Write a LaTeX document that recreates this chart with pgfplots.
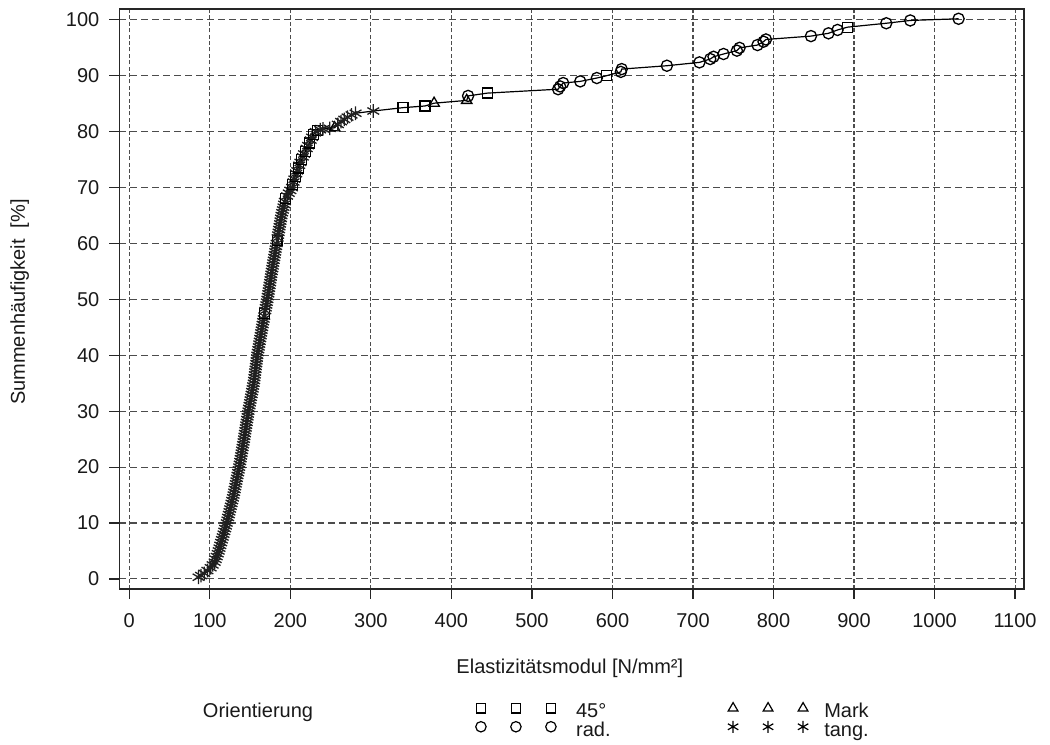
\documentclass[border=0pt]{standalone}
\usepackage{pgfplots}
\pgfplotsset{compat=1.18}
\usepackage{pgfplotstable}
\usepackage{fontspec}
\setmainfont{Liberation Sans}

\pgfplotstableread{
x y c
86 0.3 st
89 0.6 st
93 1.0 st
97 1.5 st
101 2.0 st
103.5 2.5 st
106 3.0 st
107.3 3.5 st
108.5 4.0 st
109.8 4.5 st
111 5.0 st
112 5.5 st
113 6.0 st
114 6.5 st
115 7.0 st
116 7.5 st
117 8.0 st
118 8.5 st
119 9.0 st
120 9.5 st
121 10.0 st
121.9 10.5 st
122.7 11.0 st
123.6 11.5 st
124.4 12.0 st
125.3 12.5 st
126.1 13.0 st
127 13.5 st
127.8 14.0 st
128.7 14.5 st
129.5 15.0 st
130.2 15.5 st
130.9 16.0 st
131.6 16.5 st
132.3 17.0 st
133 17.5 st
133.7 18.0 st
134.4 18.5 st
135.1 19.0 st
135.8 19.5 st
136.5 20.0 st
137.1 20.5 st
137.7 21.0 st
138.3 21.5 st
138.9 22.0 st
139.5 22.5 st
140.1 23.0 st
140.7 23.5 st
141.3 24.0 st
141.9 24.5 st
142.5 25.0 st
143 25.5 st
143.6 26.0 st
144.1 26.5 st
144.7 27.0 st
145.2 27.5 st
145.8 28.0 st
146.3 28.5 st
146.9 29.0 st
147.4 29.5 st
148 30.0 st
148.6 30.5 st
149.3 31.0 st
149.9 31.5 st
150.6 32.0 st
151.2 32.5 st
151.9 33.0 st
152.5 33.5 st
153.2 34.0 st
153.8 34.5 st
154.5 35.0 st
155 35.5 st
155.4 36.0 st
155.9 36.5 st
156.3 37.0 st
156.8 37.5 st
157.2 38.0 st
157.7 38.5 st
158.1 39.0 st
158.6 39.5 st
159 40.0 st
159.6 40.5 st
160.2 41.0 st
160.8 41.5 st
161.4 42.0 st
162 42.5 st
162.6 43.0 st
163.2 43.5 st
163.8 44.0 st
164.4 44.5 st
165 45.0 st
165.6 45.5 st
166.2 46.0 st
166.9 46.5 st
167.6 47.0 st
168.2 47.5 sq
168.9 48.0 st
169.5 48.5 st
170.2 49.0 st
170.8 49.5 st
171.5 50.0 st
172 50.5 st
172.6 51.0 st
173.1 51.5 st
173.7 52.0 st
174.2 52.5 st
174.8 53.0 st
175.3 53.5 st
175.9 54.0 st
176.4 54.5 st
177 55.0 st
177.6 55.5 st
178.2 56.0 st
178.8 56.5 st
179.4 57.0 st
180 57.5 st
180.6 58.0 st
181.2 58.5 st
181.8 59.0 st
182.4 59.5 st
183 60.0 st
183.6 60.5 sq
184.2 61.0 st
184.8 61.5 st
185.4 62.0 st
186 62.5 st
186.6 63.0 st
187.2 63.5 st
187.8 64.0 st
188.4 64.5 st
189 65.0 st
189.8 65.5 st
190.7 66.0 st
191.5 66.5 st
192.3 67.0 st
193.2 67.5 st
194 68.0 sq
196 68.5 st
198 69.0 st
200 69.5 st
202 70.0 st
203 70.5 sq
204 71.0 st
205 71.5 st
206 72.0 sq
207.2 72.5 st
208.5 73.0 st
209.7 73.5 sq
211 74.0 st
212.5 74.5 st
214 75.0 sq
215.5 75.5 st
217 76.0 st
218.7 76.5 sq
220.3 77.0 st
222 77.5 st
223.7 78.0 sq
225.3 78.5 st
227 79.0 st
229 79.5 sq
231.5 80.0 st
234 80.2 sq
237 80.35 st
240.6 80.5 st
249 80.6 st
255 80.7 tr
259 81.3 st
263 81.8 st
267 82.2 st
271 82.6 st
276 83.0 st
281 83.3 st
303 83.7 st
340 84.3 sq
367.3 84.6 sq
378.5 85.1 tr
419 85.6 tr
420.7 86.4 ci
444.4 86.9 sq
532.5 87.6 ci
535 88.1 ci
538.8 88.7 ci
560 89.0 ci
580.6 89.6 ci
592.2 90.0 sq
610.4 90.7 ci
611.5 91.2 ci
667.6 91.8 ci
708 92.4 ci
721.4 93.0 ci
725.5 93.4 ci
737.9 93.9 ci
754.5 94.5 ci
757.8 95.0 ci
780.1 95.5 ci
787.6 96.1 ci
790.6 96.5 ci
846.5 97.1 ci
868.3 97.6 ci
879.5 98.2 ci
891.9 98.7 sq
940 99.4 ci
969.8 99.9 ci
1029.8 100.2 ci
}\datatable

\begin{document}
\begin{tikzpicture}
\begin{axis}[
  scale only axis, width=452.4pt, height=289.9pt,
  xmin=-12.4, xmax=1111, ymin=-1.8, ymax=101.9,
  xtick={0,100,...,1100}, ytick={0,10,...,100},
  tick align=outside, tick pos=left, major tick length=5pt,
  tick style={black!85, line width=0.6pt},
  axis line style={black!85, line width=0.8pt},
  xmajorgrids, ymajorgrids,
  x grid style={black!70, line width=0.55pt, dash pattern=on 2pt off 1.2pt},
  y grid style={black!70, line width=0.55pt, dash pattern=on 3.5pt off 2pt},
  font=\fontsize{10}{12}\selectfont,
  /pgf/number format/assume math mode=true,
  /pgf/number format/1000 sep={},
  scaled ticks=false,
  ticklabel style={font=\fontsize{10}{12}\selectfont, text=black!90},
  xticklabel style={yshift=-4pt},
  yticklabel style={xshift=-1.5pt},
  xlabel={Elastizitätsmodul [N/mm²]},
  xlabel style={at={(axis description cs:0.498,-0.1363)}, anchor=center, text=black!90},
  ylabel={Summenhäufigkeit\ \ [\%]},
  ylabel style={at={(axis description cs:-0.110,0.495)}, anchor=center, text=black!90},
  clip=false,
  legend columns=2, transpose legend,
  legend cell align=left,
  legend style={at={(axis description cs:0.0925,-0.2277)}, anchor=west,
    draw=none, fill=none, inner sep=0pt, outer sep=0pt,
    row sep=0pt, column sep=0pt,
    font=\fontsize{10}{12}\selectfont, text=black!90,
    nodes={inner sep=0pt, text height=7.5pt, text depth=1.5pt}},
  legend image code/.code={\draw[#1] plot[only marks] coordinates {(0pt,1.8pt) (17.5pt,1.8pt) (35pt,1.8pt)};},
]
\addplot[forget plot, black, line width=0.6pt,
  scatter, scatter src=explicit symbolic,
  scatter/classes={
    st={mark=asterisk, mark size=3.4pt, black!88, mark options={line width=1.15pt}},
    sq={mark=square, mark size=2.5pt, black},
    ci={mark=o, mark size=2.8pt, black},
    tr={mark=triangle, mark size=3pt, black}},
  mark options={line width=0.65pt}]
  table[x=x, y=y, meta=c] {\datatable};

\addlegendimage{empty legend}
\addlegendentry{\makebox[136.4pt][l]{Orientierung}}
\addlegendimage{empty legend}
\addlegendentry{\makebox[136.4pt][l]{\strut}}
\addlegendimage{black, mark=square, mark size=2.4pt, line width=0.6pt}
\addlegendentry{\makebox[85.9pt][l]{\hspace*{10pt}45°}}
\addlegendimage{black, mark=o, mark size=2.6pt, line width=0.6pt}
\addlegendentry{\hspace*{10pt}rad.}
\addlegendimage{black, mark=triangle, mark size=2.8pt, line width=0.6pt}
\addlegendentry{\hspace*{8pt}Mark}
\addlegendimage{black, mark=asterisk, mark size=3pt, line width=0.6pt}
\addlegendentry{\hspace*{8pt}tang.}

\path (rel axis cs:-0.1319,-0.2691) rectangle (rel axis cs:1.0288,1.016);
\end{axis}
\end{tikzpicture}
\end{document}
